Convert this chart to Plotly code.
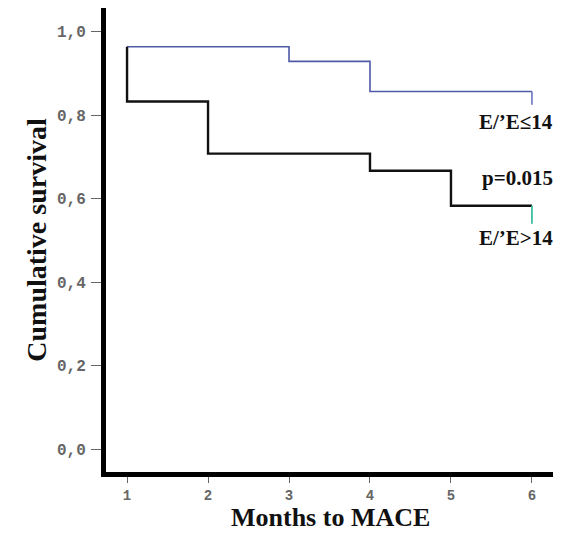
import plotly.graph_objects as go

# Data
months_low = [1, 3, 4, 6]
surv_low = [0.964, 0.929, 0.857, 0.857]
months_high = [1, 1, 2, 4, 5, 6]
surv_high = [0.964, 0.833, 0.708, 0.667, 0.583, 0.583]
censor_low = [0.857, 0.825]
censor_high = [0.583, 0.54]
censor_x = [6, 6]

ytick_vals = [0.0, 0.2, 0.4, 0.6, 0.8, 1.0]
ytick_text = ["0,0", "0,2", "0,4", "0,6", "0,8", "1,0"]
xtick_vals = [1, 2, 3, 4, 5, 6]

fig = go.Figure()
fig.add_trace(go.Scatter(x=months_low, y=surv_low, mode="lines", line_shape="hv",
                         line=dict(color="#4f5aa6", width=1.6), showlegend=False))
fig.add_trace(go.Scatter(x=months_high, y=surv_high, mode="lines", line_shape="hv",
                         line=dict(color="#111111", width=2.4), showlegend=False))
fig.add_trace(go.Scatter(x=censor_x, y=censor_low, mode="lines",
                         line=dict(color="#6a74c0", width=1.6), showlegend=False))
fig.add_trace(go.Scatter(x=censor_x, y=censor_high, mode="lines",
                         line=dict(color="#3cbfa0", width=1.8), showlegend=False))

serif = "Liberation Serif"
ann_font = dict(family=serif, size=21, color="#111111")
fig.add_annotation(x=1.005, y=0.785, xref="paper", yref="y", text="<b>E/’E≤14</b>",
                   showarrow=False, xanchor="right", font=ann_font)
fig.add_annotation(x=1.005, y=0.65, xref="paper", yref="y", text="<b>p=0.015</b>",
                   showarrow=False, xanchor="right", font=ann_font)
fig.add_annotation(x=1.005, y=0.505, xref="paper", yref="y", text="<b>E/’E>14</b>",
                   showarrow=False, xanchor="right", font=ann_font)
# x-axis title placed as annotation to keep it below tick labels
fig.add_annotation(x=0.503, y=-0.1315, xref="paper", yref="paper", text="<b>Months to MACE</b>",
                   showarrow=False, xanchor="center", yanchor="bottom", yshift=0, borderpad=0,
                   font=dict(family=serif, size=26, color="#111111"))

mono = dict(family="Liberation Mono", size=14, color="#666666")
fig.update_layout(
    width=568, height=533,
    margin=dict(l=106, r=15, t=8, b=61),
    paper_bgcolor="white", plot_bgcolor="white",
    xaxis=dict(range=[0.74, 6.26], tickvals=xtick_vals, ticktext=[f"<b>{v}</b>" for v in xtick_vals],
               showgrid=False, zeroline=False, showline=True, linecolor="black", linewidth=5,
               ticks="outside", ticklen=6, tickwidth=1, tickcolor="#666666", tickfont=mono,
               automargin=False),
    yaxis=dict(range=[-0.055, 1.057], tickvals=ytick_vals, ticktext=[f"<b>{t}</b>" for t in ytick_text],
               showgrid=False, zeroline=False, showline=True, linecolor="black", linewidth=5,
               ticks="outside", ticklen=10, tickwidth=1, tickcolor="#666666",
               tickfont=dict(family="Liberation Mono", size=16, color="#666666"),
               ticklabelstandoff=2, automargin=False,
               title=dict(text="<b>Cumulative survival</b>", font=dict(family=serif, size=28, color="#111111"),
                          standoff=4)),
)
fig.write_html("out.html", config={"displayModeBar": False},
               post_script="document.body.style.margin='0';document.body.style.padding='0';")
